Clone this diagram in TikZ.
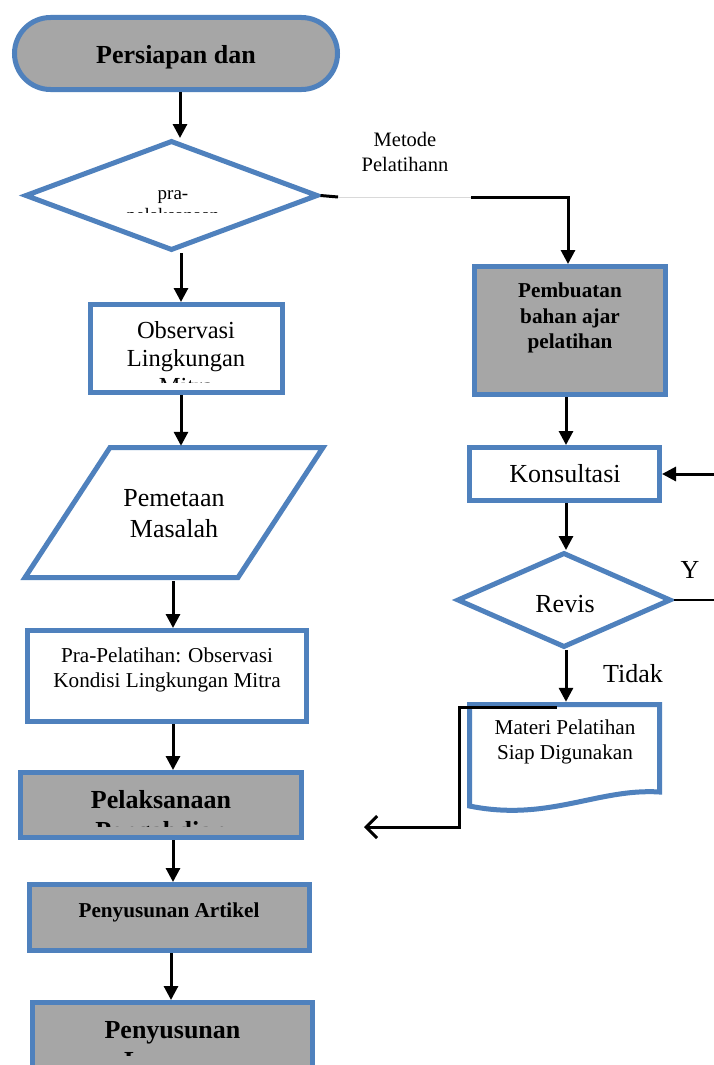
\documentclass[tikz,border=0pt]{standalone}
\usepackage{fontspec}
\setmainfont{Liberation Serif}
\usetikzlibrary{arrows.meta, positioning, shapes.geometric}

\definecolor{wordblue}{HTML}{4F81BD}
\definecolor{wordgray}{HTML}{A6A6A6}

\begin{document}
\begin{tikzpicture}[x=1pt, y=-1pt,
    blok/.style={draw=wordblue, line width=5pt, inner sep=0pt},
    putih/.style={blok, fill=white},
    abu/.style={blok, fill=wordgray},
    panah/.style={line width=3pt, -{Triangle[length=14pt, width=14pt]}},
    garis/.style={line width=3pt},
    besar/.style={align=center, inner sep=0pt, font=\fontsize{26}{30.5}\selectfont},
    besarb/.style={besar, font=\fontsize{26}{31}\selectfont\bfseries},
    sedang/.style={align=center, inner sep=0pt, font=\fontsize{21.2}{25}\selectfont},
    sedangb/.style={sedang, font=\fontsize{21.2}{25.5}\selectfont\bfseries},
    kecil/.style={align=center, inner sep=0pt, font=\fontsize{19}{22}\selectfont}]

    % Page
    \fill[white] (0,0) rectangle (713,1065);
    \useasboundingbox (0,0) rectangle (713,1065);

    % Columns of the vertical arrows
    \coordinate (kA) at (180,0);
    \coordinate (kB) at (181,0);
    \coordinate (kC) at (173,0);
    \coordinate (kD) at (171,0);
    \coordinate (kR) at (566,0);
    \coordinate (kS) at (568,0);

    % Start
    \node[abu, rounded corners=36pt, minimum width=323pt, minimum height=72pt] (mulai) at (176,53.5) {};
    \node[besarb] (mulai-t) at (176,57) {Persiapan dan};

    % Decision pra-pelaksanaan
    \node[putih, diamond, minimum width=293pt, minimum height=110pt] (prapel) at (171.5,195.5) {};
    \begin{scope}
        \clip (0,0) rectangle (713,212);
        \node[kecil] (prapel-t) at (173,208) {pra-\\pelaksanaan};
    \end{scope}

    % Observasi
    \node[putih, minimum width=192pt, minimum height=88pt] (obs) at (186.5,348.5) {};
    \begin{scope}
        \clip (0,0) rectangle (713,382);
        \node[besar, font=\fontsize{24.5}{28}\selectfont] (obs-t) at (186,358) {Observasi\\Lingkungan\\Mitra};
    \end{scope}

    % Pemetaan masalah
    \draw[blok, fill=white] (110,447.5) -- (323,447.5) -- (238,577.5) -- (25,577.5) -- cycle;
    \node[besar, minimum height=135pt] (peta) at (174,513.5) {Pemetaan\\Masalah};

    % Pra-pelatihan
    \node[putih, minimum width=279pt, minimum height=91pt] (prapelatihan) at (167,676) {};
    \node[sedang] (prapelatihan-t) at (167,669.5) {Pra-Pelatihan: Observasi\\Kondisi Lingkungan Mitra};

    % Pelaksanaan
    \node[abu, minimum width=281pt, minimum height=65pt] (pelaksanaan) at (161,805) {};
    \begin{scope}
        \clip (0,0) rectangle (713,826);
        \node[besarb] (pelaksanaan-t) at (161,818) {Pelaksanaan\\Pengabdian};
    \end{scope}

    % Penyusunan artikel
    \node[abu, minimum width=280pt, minimum height=66pt] (artikel) at (169.5,917.5) {};
    \node[sedangb] (artikel-t) at (169,912) {Penyusunan Artikel};

    % Penyusunan laporan
    \node[abu, minimum width=280pt, minimum height=75pt] (laporan) at (172.5,1040) {};
    \begin{scope}
        \clip (0,0) rectangle (713,1055);
        \node[besarb] (laporan-t) at (172.5,1048) {Penyusunan\\Laporan};
    \end{scope}

    % Right column
    \node[abu, minimum width=191pt, minimum height=128pt] (bahan) at (570,330.5) {};
    \node[sedangb] (bahan-t) at (570,318) {Pembuatan\\bahan ajar\\pelatihan};

    \node[putih, minimum width=190pt, minimum height=53pt] (konsul) at (564.5,474) {};
    \node[besar] (konsul-t) at (565,474) {Konsultasi};

    \node[putih, diamond, minimum width=214pt, minimum height=95pt] (revisi) at (564,600) {};
    \node[besar] (revisi-t) at (565,604) {Revis};

    % Document
    \draw[blok, fill=white] (469.5,704.5) -- (659.5,704.5) -- (659.5,792)
        .. controls (598,788) and (548,822) .. (469.5,806) -- cycle;
    \node[sedang, minimum height=80pt] (materi) at (565,742) {Materi Pelatihan\\Siap Digunakan};

    % Arrows, left column
    \draw[panah] (kA |- mulai.south) -- (kA |- prapel.north);
    \draw[panah] (kB |- prapel.south) -- (kB |- obs.north);
    \draw[panah] (kB |- obs.south) -- (kB |- peta.north);
    \draw[panah] (kC |- peta.south) -- (kC |- prapelatihan.north);
    \draw[panah] (kC |- prapelatihan.south) -- (kC |- pelaksanaan.north);
    \draw[panah] (kC |- pelaksanaan.south) -- (kC |- artikel.north);
    \draw[panah] (kD |- artikel.south) -- (kD |- laporan.north);

    % Branch to the right column
    \coordinate (m1) at (338,197);
    \coordinate (m2) at (471,197);
    \draw[garis] (prapel.east) -- (m1);
    \draw[black!15, line width=1pt] (m1) -- (m2);
    \draw[panah] (m2) -| (kS |- bahan.north);
    \node[kecil, font=\fontsize{20.5}{25}\selectfont] (metode) at (405,151.5) {Metode\\Pelatihann};

    % Arrows, right column
    \draw[panah] (kR |- bahan.south) -- (kR |- konsul.north);
    \draw[panah] (kR |- konsul.south) -- (kR |- revisi.north);
    \draw[panah] (kR |- revisi.south) -- (kR |- materi.north);

    % Revision loop (runs off the page)
    \draw[line width=2pt] (revisi.east) -- ++(60,0) coordinate (ujung);
    \draw[panah] (ujung) |- (konsul.east);
    \node[besar] (ya) at (690,569.5) {Y};
    \node[besar] (tidak) at (633,674) {Tidak};

    % Return connector
    \coordinate (balik) at (557,707);
    \coordinate (kiri) at (364,827);
    \draw[garis, -{Straight Barb[length=11pt, width=22pt]}] (balik) -- ++(-98,0) |- (kiri);

\end{tikzpicture}
\end{document}
